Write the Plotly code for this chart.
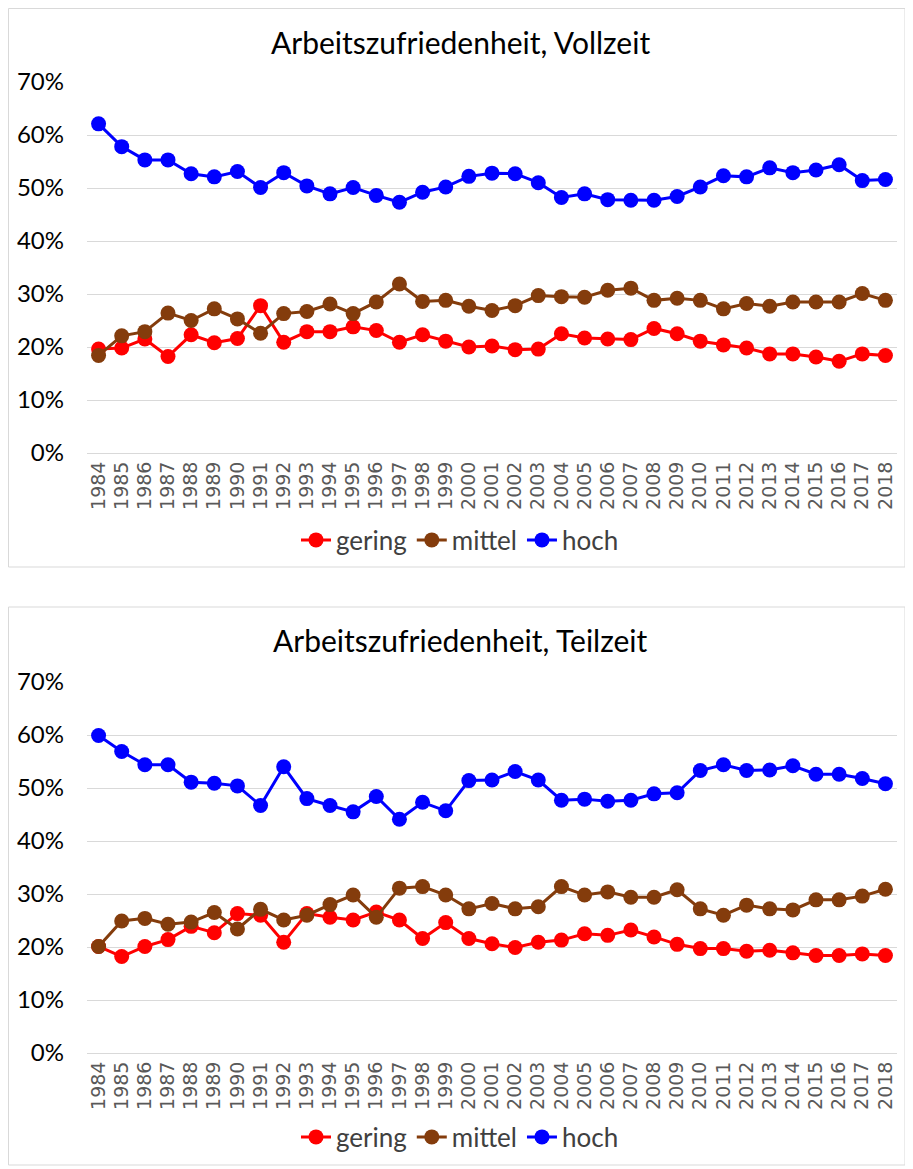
import plotly.graph_objects as go

years = [str(y) for y in range(1984, 2019)]

# Vollzeit (percent)
voll_gering = [19.6, 19.8, 21.5, 18.2, 22.3, 20.8, 21.6, 27.8, 20.9, 22.9, 22.9, 23.8, 23.1, 20.9, 22.3, 21.1, 20.0, 20.2,
               19.5, 19.6, 22.5, 21.7, 21.5, 21.4, 23.5, 22.5, 21.1, 20.4, 19.8, 18.7, 18.7, 18.1, 17.3, 18.7, 18.4]
voll_mittel = [18.4, 22.1, 22.9, 26.4, 25.0, 27.2, 25.3, 22.6, 26.3, 26.7, 28.1, 26.3, 28.5, 31.9, 28.6, 28.8, 27.7, 26.9,
               27.8, 29.7, 29.5, 29.4, 30.7, 31.1, 28.8, 29.2, 28.8, 27.2, 28.2, 27.7, 28.5, 28.5, 28.5, 30.1, 28.8]
voll_hoch = [62.1, 57.8, 55.3, 55.3, 52.7, 52.1, 53.1, 50.1, 52.9, 50.4, 48.9, 50.1, 48.6, 47.3, 49.2, 50.2, 52.2, 52.8,
             52.7, 51.0, 48.2, 48.9, 47.8, 47.7, 47.7, 48.4, 50.2, 52.3, 52.1, 53.8, 52.9, 53.4, 54.4, 51.4, 51.6]

# Teilzeit (percent)
teil_gering = [20.1, 18.2, 20.1, 21.4, 23.9, 22.7, 26.3, 26.0, 20.9, 26.3, 25.6, 25.1, 26.6, 25.1, 21.6, 24.6, 21.6, 20.6,
               19.9, 20.9, 21.3, 22.5, 22.2, 23.2, 21.9, 20.5, 19.7, 19.7, 19.2, 19.4, 18.9, 18.4, 18.4, 18.7, 18.4]
teil_mittel = [20.1, 24.9, 25.4, 24.3, 24.7, 26.5, 23.4, 27.1, 25.1, 26.0, 28.0, 29.8, 25.6, 31.1, 31.4, 29.8, 27.2, 28.2,
               27.2, 27.6, 31.4, 29.8, 30.4, 29.4, 29.4, 30.8, 27.2, 26.0, 27.9, 27.2, 27.0, 28.9, 28.9, 29.6, 30.9]
teil_hoch = [59.9, 56.9, 54.4, 54.4, 51.1, 50.9, 50.4, 46.7, 54.0, 48.0, 46.7, 45.5, 48.4, 44.1, 47.3, 45.7, 51.4, 51.5,
             53.1, 51.5, 47.7, 47.9, 47.5, 47.7, 48.9, 49.1, 53.3, 54.4, 53.3, 53.4, 54.2, 52.6, 52.6, 51.8, 50.8]

series_names = ["gering", "mittel", "hoch"]
colors = {"gering": "#FF0000", "mittel": "#843C0C", "hoch": "#0000FF"}

panels = [
    ("Arbeitszufriedenheit, Vollzeit", [voll_gering, voll_mittel, voll_hoch]),
    ("Arbeitszufriedenheit, Teilzeit", [teil_gering, teil_mittel, teil_hoch]),
]

# page is 913x1169, the figure div sits 8px in from the top-left (body margin)
OFF = 8
W, H = 913 - OFF, 1169 - OFF
FONT = "Lato"


def px_x(x):
    return (x - OFF) / W


def px_y(y):
    return 1 - (y - OFF) / H


fig = go.Figure()

# page-pixel geometry of each panel: plot top/bottom, title y, legend y, box top/bottom
geom = [
    dict(top=82, bottom=453, title=42, legend=540, box=(8.5, 567)),
    dict(top=682, bottom=1053, title=640, legend=1137, box=(607, 1165)),
]

for i, ((title, data), g) in enumerate(zip(panels, geom)):
    n = "" if i == 0 else str(i + 1)
    legend_name = "legend" if i == 0 else "legend2"
    for name, vals in zip(series_names, data):
        fig.add_trace(go.Scatter(
            x=years, y=vals, name=name, mode="lines+markers",
            line=dict(color=colors[name], width=3),
            marker=dict(color=colors[name], size=15),
            xaxis="x" + n, yaxis="y" + n, legend=legend_name,
        ))

    fig.layout["xaxis" + n] = dict(
        domain=[px_x(87), px_x(897)], anchor="y" + n, type="category",
        range=[-0.5, len(years) - 0.5],
        tickangle=-90, showgrid=False, showline=True, linecolor="#D9D9D9", linewidth=1,
        tickfont=dict(family="DejaVu Sans", size=19, color="#595959"),
        ticks="", fixedrange=True, automargin=False,
    )
    fig.layout["yaxis" + n] = dict(
        domain=[px_y(g["bottom"]), px_y(g["top"])], anchor="x" + n,
        range=[0, 70], dtick=10, ticksuffix="%", showgrid=True, gridcolor="#D9D9D9", gridwidth=1,
        zeroline=False, showline=False, ticks="", ticklabelstandoff=22, automargin=False,
        tickfont=dict(family=FONT, size=24, color="#000000"),
    )
    fig.layout[legend_name] = dict(
        orientation="h", x=px_x(460), xanchor="center", y=px_y(g["legend"]), yanchor="middle",
        font=dict(family=FONT, size=26, color="#404040"), bgcolor="rgba(0,0,0,0)",
        itemwidth=30, tracegroupgap=0,
    )
    fig.add_annotation(
        text=title, xref="paper", yref="paper", x=px_x(460), y=px_y(g["title"]),
        xanchor="center", yanchor="middle", showarrow=False,
        font=dict(family=FONT, size=30, color="#000000"),
    )
    fig.add_shape(
        type="rect", xref="paper", yref="paper",
        x0=px_x(8.5), x1=px_x(905), y0=px_y(g["box"][1]), y1=px_y(g["box"][0]),
        line=dict(color="#D9D9D9", width=1), fillcolor="rgba(0,0,0,0)", layer="below",
    )

fig.update_layout(
    width=W, height=H, margin=dict(l=0, r=0, t=0, b=0, autoexpand=False),
    paper_bgcolor="white", plot_bgcolor="white", showlegend=True,
)

fig.write_html("out.html")
